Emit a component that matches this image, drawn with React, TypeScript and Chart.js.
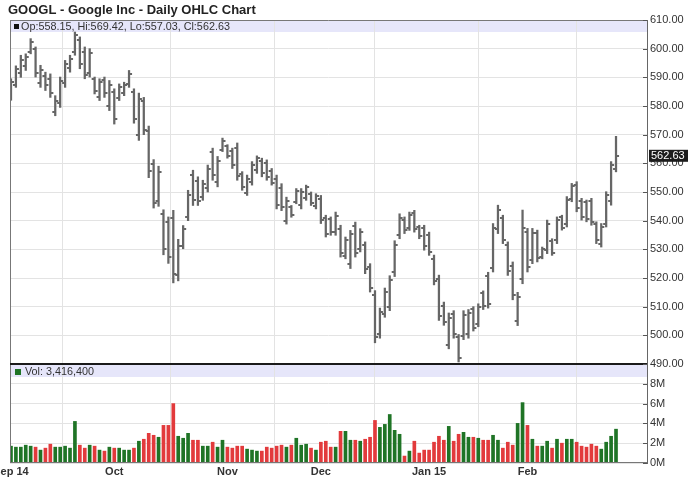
import React, { useEffect, useRef } from 'react';
import { Chart, registerables } from 'chart.js';

Chart.register(...registerables);

// ---------------- data ----------------
const TITLE = 'GOOGL - Google Inc - Daily OHLC Chart';
const MONTH_LABELS = ['Sep 14', 'Oct', 'Nov', 'Dec', 'Jan 15', 'Feb'];
const MONTH_START_INDEX = [0, 21, 44, 63, 85, 105];

const opens = [
  583.5, 587.5, 591.5, 594, 599, 599.8, 588, 590.6, 589.5, 577.8,
  581, 588, 593.2, 599, 603, 599, 591.5, 589.4, 583, 589,
  580, 585, 582.8, 584.4, 587.6, 585, 570, 581.6, 571.2, 559.8,
  547, 542.5, 539.7, 541, 521, 531.3, 541.2, 556, 554, 548.3,
  551.5, 563.8, 553.5, 564.8, 565.9, 564.4, 565.5, 556.2, 549.8, 553.5,
  557.6, 560.9, 560.2, 557.3, 554.7, 551.5, 540, 544.6, 546.6, 545.3,
  547.9, 549.3, 545, 547.6, 540.9, 540.5, 536, 537.2, 527.8, 525,
  538.2, 530.2, 531.4, 523.8, 514, 500.4, 507.5, 510, 522, 535,
  540.4, 537.5, 542.8, 537.7, 537.3, 535, 526.8, 519.6, 510.4, 496.8,
  507.4, 499.5, 499.8, 500.5, 509.1, 504, 514.6, 520.8, 523.6, 537,
  540.8, 531.5, 524.2, 505, 519.8, 535.9, 526.4, 535.6, 527.4, 529.8,
  533, 533.2, 541.2, 539, 547.4, 552.5, 546.9, 546.4, 546.8, 538.8,
  532, 539, 546.8, 558.15,
];

const highs = [
  589.5, 594, 597.7, 598.2, 603.5, 600.6, 594.2, 591.8, 591.2, 583.6,
  590.1, 595.9, 597.7, 605.8, 604.1, 600.6, 600, 590.1, 589.5, 590.1,
  588.9, 586, 587.7, 588.3, 592.4, 586, 584.5, 583, 573, 561.3,
  559, 543.8, 541.3, 543.6, 533.5, 538.3, 550.6, 557.6, 555.3, 554.1,
  559.4, 565.3, 562.4, 568.8, 566.5, 565.3, 567.1, 557.1, 555.9, 560.6,
  562.6, 561.8, 561.2, 558.2, 555.9, 552.9, 548.2, 545.3, 551.2, 551.2,
  552.4, 550, 549.4, 548.8, 541.9, 541.3, 543, 538.4, 534.3, 536.6,
  539.5, 537.2, 532.6, 525, 515.6, 509.5, 516.5, 520.8, 533, 542.4,
  541.3, 543, 543.6, 538.4, 538.4, 536, 528, 521, 511.6, 507.8,
  508.6, 500.3, 508.6, 509, 510, 511, 515.5, 522, 539, 545.4,
  541.9, 532.6, 525.6, 515, 543.7, 537.3, 537.3, 536.7, 530.8, 540.2,
  533.7, 541.3, 541.9, 548.4, 553, 553.6, 547.8, 547.2, 547.8, 539.6,
  539, 550.1, 560.6, 569.42,
];

const lows = [
  582, 586.5, 590, 592.4, 598.2, 590.1, 586.5, 585.4, 583, 576.6,
  579.5, 586.5, 591.8, 597.7, 593, 589.5, 590.1, 584.2, 581.9, 583,
  578.4, 573.7, 581.9, 583.6, 586.5, 574, 568, 570, 555, 544.4,
  545, 528.1, 525.1, 518.3, 519, 530.2, 540, 545.3, 545.3, 547.1,
  550, 554.1, 551.8, 564.1, 561.8, 558.2, 554.1, 550.6, 548.8, 552.4,
  556.5, 555.3, 554.1, 552.4, 544.1, 543.5, 538.8, 541.2, 545.9, 544.1,
  547.1, 545.3, 544.1, 539, 534.3, 534.9, 534.9, 527.3, 526.7, 523.3,
  527.3, 529.1, 521.5, 515.1, 497.4, 499, 506.3, 508.6, 520.5, 533.7,
  535.5, 536.6, 536, 533.7, 529.7, 527.9, 517.6, 505.2, 503.5, 495.3,
  499, 490.7, 498.5, 499, 501.5, 503, 509, 509.5, 522.1, 535.5,
  532, 520.9, 512.4, 503.4, 518, 522.1, 525, 525.6, 526.7, 528.5,
  527.9, 532, 536.7, 537.8, 546.6, 543.1, 540.2, 539.6, 538.4, 532,
  530.8, 537.8, 545.4, 557.03,
];

const closes = [
  588.5, 592.8, 596.2, 597.1, 602.3, 591.4, 592.6, 587.2, 584.6, 581.9,
  588.8, 594.7, 596.5, 604.6, 594.8, 590.7, 598.4, 585.3, 588.2, 584.5,
  587.5, 575.5, 586.5, 587.4, 591.3, 575.6, 582.4, 571.8, 557.4, 546.2,
  556.9, 530.1, 527.4, 521.5, 531.2, 537.1, 549.1, 547.2, 546.8, 552.8,
  558.1, 556, 560.9, 567.9, 562.7, 559.4, 555.6, 551.7, 554.7, 559.4,
  561.7, 556.6, 555.2, 553.3, 545.6, 544.7, 547, 542, 550.3, 549.9,
  551.6, 546.2, 548.6, 540.4, 535.5, 536, 541.8, 528.6, 533.1, 535.2,
  528.8, 536.1, 523, 516.5, 499.3, 508.2, 515.1, 519.3, 531.6, 541.1,
  536.6, 542, 537.2, 534.6, 531, 529.2, 519, 506.8, 504.6, 506.2,
  500.3, 492.2, 507.2, 507.8, 502.7, 510, 510.2, 511, 537.5, 543.8,
  533.4, 522.3, 513.9, 513.5, 537.6, 523.8, 535.8, 527, 530, 538.9,
  528.8, 540.2, 537.5, 547.2, 552.1, 544.4, 541.3, 540.7, 539.6, 533.1,
  537.9, 549, 559.4, 562.63,
];

// volume in millions of shares
const volumesM = [
  1.7,
  1.6, 1.6, 1.8, 1.7, 1.6, 1.3, 1.5, 1.9, 1.6, 1.6,
  1.7, 1.5, 4.2, 1.8, 1.5, 1.8, 1.7, 1.3, 1.2, 1.6,
  1.5, 1.5, 1.3, 1.3, 1.5, 2.2, 2.4, 3.0, 2.8, 2.6,
  3.8, 3.8, 6.0, 2.7, 2.5, 3.0, 2.3, 2.3, 1.7, 1.7,
  2.1, 1.6, 2.3, 1.6, 1.5, 1.7, 1.7, 1.4, 1.3, 1.2,
  1.2, 1.6, 1.5, 1.7, 1.8, 1.6, 1.8, 2.5, 1.8, 1.9,
  1.5, 1.3, 2.1, 2.2, 1.6, 1.6, 3.2,
  3.2, 2.3, 2.3, 2.2, 2.4, 2.6, 4.3, 3.6, 3.9, 4.9,
  3.3, 2.9, 0.7, 1.2, 2.2, 1.0, 1.3, 1.3, 2.1, 2.7,
  2.3, 3.7, 2.2, 2.9, 3.1, 2.6, 2.6, 2.5, 2.3, 2.3,
  2.8, 2.3, 1.5, 2.1, 1.8, 4.0, 6.1, 3.8, 2.4, 1.7,
  1.7, 2.2, 1.5, 2.4, 2.0, 2.4, 2.4, 2.1, 1.7, 1.6,
  1.9, 1.7, 1.4, 2.1, 2.7, 3.4164,
];

const PRICE_MIN = 490;
const PRICE_MAX = 610;
const PRICE_STEP = 10;
const VOL_MIN = 0;
const VOL_MAX = 10;
const VOL_STEP = 2;

// ---------------- styles ----------------
const FONT = "'Liberation Sans', Arial, sans-serif";
const BAR_GREY = '#666666';
const UP_GREEN = '#1f7426';
const DOWN_RED = '#e23a3c';
const BAND = '#e6e6fa';
const GRID = '#e3e3e3';
const TEXT = '#333333';

function makeTick(side: 'left' | 'right') {
  const c = document.createElement('canvas');
  c.width = 8;
  c.height = 2;
  const g = c.getContext('2d')!;
  g.fillStyle = BAR_GREY;
  if (side === 'left') g.fillRect(1, 0, 3, 2);
  else g.fillRect(4, 0, 3, 2);
  return c;
}

const decorPlugin = {
  id: 'decor',
  beforeDraw(chart: any) {
    const { ctx, chartArea: a } = chart;
    const y = chart.scales.y;
    const yv = chart.scales.yVol;
    ctx.save();
    ctx.fillStyle = BAND;
    ctx.fillRect(a.left, y.top, a.right - a.left, 12);
    ctx.fillRect(a.left, yv.top, a.right - a.left, 13);
    ctx.restore();
  },
  afterDraw(chart: any) {
    const { ctx, chartArea: a } = chart;
    const y = chart.scales.y;
    const yv = chart.scales.yVol;
    const x = chart.scales.x;
    const n = closes.length - 1;
    ctx.save();

    // frame
    ctx.strokeStyle = '#777';
    ctx.lineWidth = 1;
    ctx.beginPath();
    ctx.moveTo(a.left + 0.5, a.top);
    ctx.lineTo(a.left + 0.5, a.bottom);
    ctx.moveTo(a.left, a.top + 0.5);
    ctx.lineTo(a.right, a.top + 0.5);
    ctx.moveTo(a.left, a.bottom - 0.5);
    ctx.lineTo(a.right, a.bottom - 0.5);
    ctx.stroke();

    // pane separator
    ctx.strokeStyle = '#1a1a1a';
    ctx.lineWidth = 2;
    ctx.beginPath();
    ctx.moveTo(a.left, y.bottom);
    ctx.lineTo(a.right, y.bottom);
    ctx.stroke();

    // inward tick marks on the right axis
    ctx.strokeStyle = '#555';
    ctx.lineWidth = 1;
    ctx.beginPath();
    for (const s of [y, yv]) {
      for (const t of s.ticks) {
        const py = Math.round(s.getPixelForValue(t.value)) + 0.5;
        ctx.moveTo(a.right - 4, py);
        ctx.lineTo(a.right, py);
      }
    }
    ctx.stroke();

    // title
    ctx.fillStyle = '#222';
    ctx.font = `bold 13px ${FONT}`;
    ctx.textAlign = 'left';
    ctx.textBaseline = 'middle';
    ctx.fillText(TITLE, 8, 10);

    // price header
    ctx.fillStyle = '#111';
    ctx.fillRect(14, y.top + 4, 5, 5);
    ctx.fillStyle = TEXT;
    ctx.font = `10.8px ${FONT}`;
    ctx.fillText(
      `Op:${opens[n].toFixed(2)}, Hi:${highs[n].toFixed(2)}, Lo:${lows[n].toFixed(2)}, Cl:${closes[n].toFixed(2)}`,
      21,
      y.top + 7
    );

    // volume header
    ctx.fillStyle = UP_GREEN;
    ctx.fillRect(15, yv.top + 5, 6, 6);
    ctx.fillStyle = TEXT;
    ctx.fillText(`Vol: ${Math.round(volumesM[n] * 1e6).toLocaleString('en-US')}`, 25, yv.top + 8);

    // x labels
    ctx.font = `bold 11px ${FONT}`;
    ctx.textAlign = 'center';
    ctx.fillStyle = TEXT;
    MONTH_LABELS.forEach((lab, k) => {
      ctx.fillText(lab, x.getPixelForValue(MONTH_START_INDEX[k]), a.bottom + 9);
    });

    // last price marker
    const py = y.getPixelForValue(closes[n]);
    ctx.fillStyle = '#1c1c1c';
    ctx.fillRect(a.right + 2, py - 6, 39, 12);
    ctx.fillStyle = '#ffffff';
    ctx.font = `11px ${FONT}`;
    ctx.textAlign = 'left';
    ctx.fillText(closes[n].toFixed(2), a.right + 4, py + 0.5);

    ctx.restore();
  },
};

export default function App() {
  const ref = useRef<HTMLCanvasElement | null>(null);

  useEffect(() => {
    if (!ref.current) return;
    const idx = closes.map((_, i) => i);
    const openTick = makeTick('left');
    const closeTick = makeTick('right');

    const chart = new Chart(ref.current, {
      type: 'bar',
      data: {
        datasets: [
          {
            type: 'scatter',
            yAxisID: 'y',
            data: idx.map((i) => ({ x: i, y: opens[i] })),
            pointStyle: openTick as any,
            pointRadius: 3,
            order: 1,
          } as any,
          {
            type: 'scatter',
            yAxisID: 'y',
            data: idx.map((i) => ({ x: i, y: closes[i] })),
            pointStyle: closeTick as any,
            pointRadius: 3,
            order: 1,
          } as any,
          {
            type: 'bar',
            yAxisID: 'y',
            data: idx.map((i) => ({ x: i, y: [lows[i], highs[i]] })),
            backgroundColor: BAR_GREY,
            barThickness: 1.6,
            grouped: false,
            order: 2,
          } as any,
          {
            type: 'bar',
            yAxisID: 'yVol',
            data: idx.map((i) => ({ x: i, y: volumesM[i] })),
            backgroundColor: idx.map((i) => (closes[i] >= opens[i] ? UP_GREEN : DOWN_RED)),
            barThickness: 3,
            grouped: false,
            order: 3,
          } as any,
        ],
      },
      options: {
        responsive: false,
        devicePixelRatio: 1,
        animation: false,
        events: [],
        layout: { padding: { left: 10, top: 20, right: 0, bottom: 40 } },
        plugins: {
          legend: { display: false },
          tooltip: { enabled: false },
          title: { display: false },
        },
        scales: {
          x: {
            type: 'linear',
            min: -0.2,
            max: 129.3,
            offset: false,
            grid: { color: GRID, drawTicks: false },
            border: { display: false },
            ticks: { display: false },
            afterBuildTicks: (s: any) => {
              s.ticks = MONTH_START_INDEX.map((v) => ({ value: v }));
            },
            afterFit: (s: any) => {
              s.height = 0;
            },
          },
          y: {
            type: 'linear',
            position: 'right',
            stack: 'panes',
            stackWeight: 344,
            min: PRICE_MIN,
            max: PRICE_MAX,
            grid: { color: GRID, drawTicks: false },
            border: { color: '#666' },
            ticks: {
              stepSize: PRICE_STEP,
              autoSkip: false,
              padding: 3,
              color: TEXT,
              font: { family: FONT, size: 11 },
              callback: (v: any) => Number(v).toFixed(2),
            },
            afterFit: (s: any) => {
              s.width = 41;
            },
          },
          yVol: {
            type: 'linear',
            position: 'right',
            stack: 'panes',
            stackWeight: 99,
            min: VOL_MIN,
            max: VOL_MAX,
            grid: { color: GRID, drawTicks: false },
            border: { color: '#666' },
            ticks: {
              stepSize: VOL_STEP,
              autoSkip: false,
              padding: 3,
              color: TEXT,
              font: { family: FONT, size: 11 },
              callback: (v: any) => (Number(v) >= VOL_MAX ? '' : `${v}M`),
            },
            afterFit: (s: any) => {
              s.width = 41;
            },
          },
        },
      } as any,
      plugins: [decorPlugin],
    });
    return () => chart.destroy();
  }, []);

  return (
    <div style={{ position: 'absolute', left: 0, top: 0, width: 688, height: 503, background: '#fff' }}>
      <canvas ref={ref} width={688} height={503} style={{ display: 'block' }} />
    </div>
  );
}
